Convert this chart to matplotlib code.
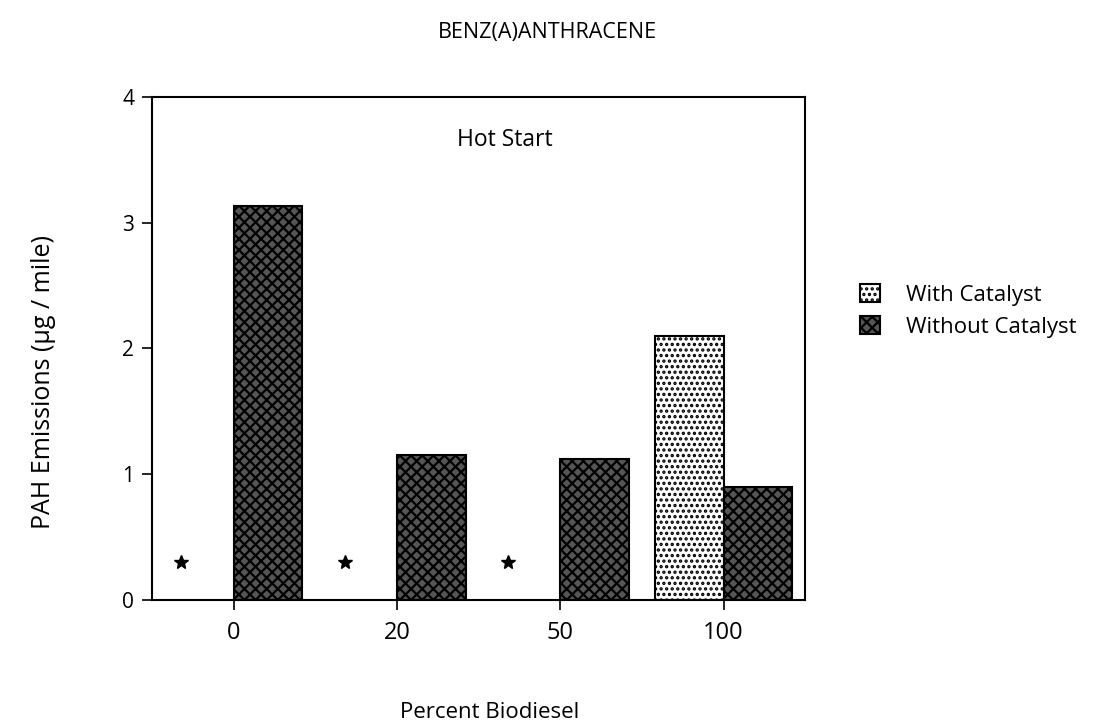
import matplotlib
matplotlib.use("Agg")
import matplotlib.pyplot as plt
import numpy as np

plt.rcParams['font.family'] = ['Open Sans', 'DejaVu Sans']
plt.rcParams['hatch.linewidth'] = 1.6

categories = ['0', '20', '50', '100']
with_catalyst = [np.nan, np.nan, np.nan, 2.1]
without_catalyst = [3.13, 1.15, 1.12, 0.9]
missing_star = [0.3, 0.3, 0.3, np.nan]   # no data for "with catalyst"

x = np.arange(len(categories))
w = 0.42

fig = plt.figure(figsize=(10.94, 7.27), dpi=100)
ax = fig.add_axes([0.139, 0.1747, 0.597, 0.6919])

ax.bar(x - w, with_catalyst, w, align='edge', facecolor='white',
       edgecolor='black', hatch='...', linewidth=1.5, label='With Catalyst')
ax.bar(x, without_catalyst, w, align='edge', facecolor='#555555',
       edgecolor='black', hatch='xxx', linewidth=1.5, label='Without Catalyst')
ax.plot(x - 0.32, missing_star, ls='none', marker='*', color='black',
        markersize=10)

ax.set_xlim(-0.5, 3.5)
ax.set_ylim(0, 4)
ax.set_xticks(x)
ax.set_xticklabels(categories)
ax.set_yticks([0, 1, 2, 3, 4])
ax.tick_params(direction='out', length=7, width=1.2)
ax.tick_params(axis='x', labelsize=17, pad=8)
ax.tick_params(axis='y', labelsize=15, pad=6)
for s in ax.spines.values():
    s.set_linewidth(1.5)

ax.text(0.54, 0.915, 'Hot Start', transform=ax.transAxes, ha='center',
        va='center', fontsize=16.5)

fig.text(0.040, 0.475, 'PAH Emissions (µg / mile)', rotation=90,
         ha='center', va='center', fontsize=18)
fig.text(0.448, 0.005, 'Percent Biodiesel', ha='center', va='bottom',
         fontsize=16)
fig.text(0.5, 0.955, 'BENZ(A)ANTHRACENE', ha='center', va='center',
         fontsize=15.5)

ax.legend(loc='center left', bbox_to_anchor=(1.07, 0.575), frameon=False,
          fontsize=16, handlelength=0.9, handleheight=0.9,
          labelspacing=0.45, handletextpad=1.2, borderaxespad=0)

fig.savefig('out.png', dpi=100)
